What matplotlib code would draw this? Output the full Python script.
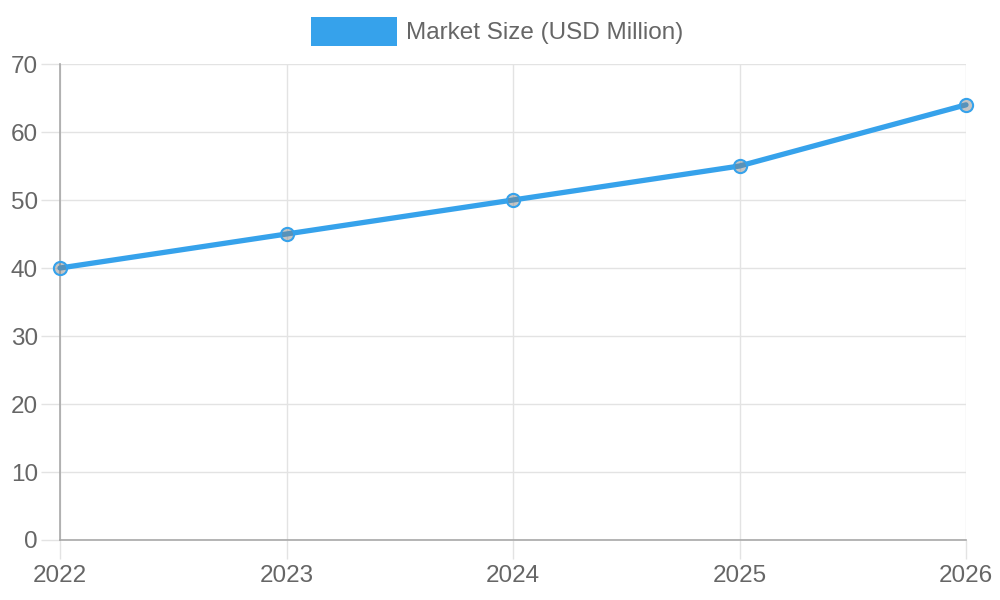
import matplotlib.pyplot as plt
from matplotlib.patches import Rectangle

years = ["2022", "2023", "2024", "2025", "2026"]
market_size = [40, 45, 50, 55, 64]
y_ticks = [0, 10, 20, 30, 40, 50, 60, 70]
series_label = "Market Size (USD Million)"

plt.rcParams['font.family'] = ['Liberation Sans', 'DejaVu Sans']

fig = plt.figure(figsize=(10, 6), dpi=100)
ax = fig.add_axes([0.06, 0.10, 0.906, 0.7933])

x = list(range(len(years)))
ax.plot(x, market_size, color='#36A2EB', linewidth=3.8, solid_capstyle='round',
        marker='o', markersize=9.5, markerfacecolor=(0.5, 0.5, 0.5, 0.45),
        markeredgecolor='#36A2EB', markeredgewidth=1.5, zorder=3, clip_on=False)

ax.set_xlim(0, len(years) - 1)
ax.set_ylim(0, 70)
ax.set_xticks(x)
ax.set_xticklabels(years)
ax.set_yticks(y_ticks)

ax.grid(True, color='#e3e3e3', linewidth=1)
ax.set_axisbelow(True)
for s in ['top', 'right']:
    ax.spines[s].set_visible(False)
for s in ['left', 'bottom']:
    ax.spines[s].set_color('#a8a8a8')
    ax.spines[s].set_linewidth(1.2)

ax.tick_params(axis='both', colors='#e3e3e3', labelcolor='#666666',
               labelsize=17.5, length=14, width=1, pad=2)
ax.tick_params(axis='x', pad=4)

# legend
fig.add_artist(Rectangle((311 / 1000, 1 - 46 / 600), 86 / 1000, 29 / 600,
                         transform=fig.transFigure, facecolor='#36A2EB',
                         edgecolor='none'))
fig.text(406 / 1000, 1 - 33 / 600, series_label, color='#666666', fontsize=17.5,
         va='center', ha='left')

fig.savefig("out.png", dpi=100)
